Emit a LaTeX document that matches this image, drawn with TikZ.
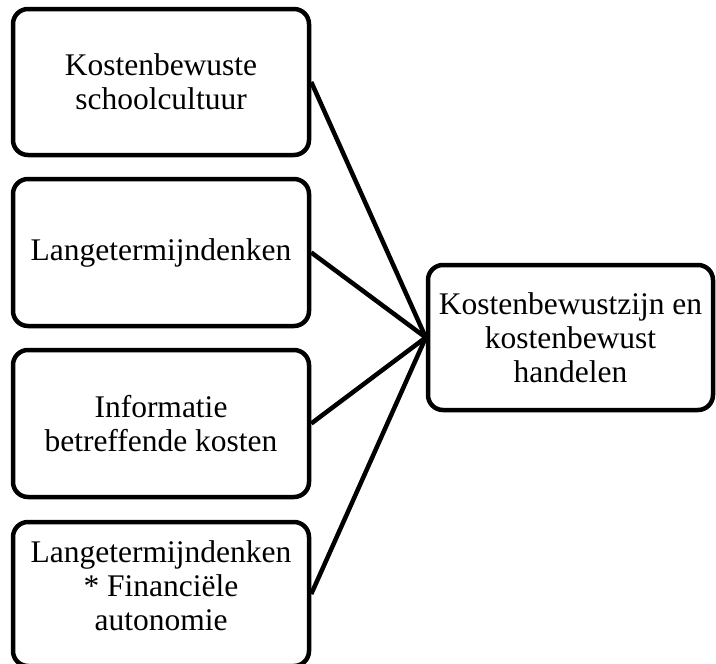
\documentclass[tikz,border=0pt]{standalone}
\usepackage{fontspec}
\setmainfont{Liberation Serif}
\begin{document}
\begin{tikzpicture}[x=1pt,y=-1pt,
  box/.style={draw=black, line width=4.5pt, rounded corners=15pt, minimum width=296pt,
    inner sep=0pt, align=center, font=\fontsize{31.5}{34}\selectfont},
  txt/.style={inner sep=0pt, align=center, font=\fontsize{31.5}{34}\selectfont},
  link/.style={draw=black, line width=4.5pt}]
  \useasboundingbox (0,0) rectangle (716,664);
  % source factors
  \node[box, minimum height=146pt] (b1) at (161,82) {Kostenbewuste\\schoolcultuur};
  \node[box, minimum height=147pt] (b2) at (161,252.5) {Langetermijndenken};
  \node[box, minimum height=147pt] (b3) at (161,423.5) {Informatie\\betreffende kosten};
  \node[box, minimum height=144pt] (b4) at (161,594) {};
  \node[txt] (t4) at (161,586) {Langetermijndenken\\* Financiële\\autonomie};
  % outcome
  \node[box, minimum width=285pt, minimum height=145pt] (r) at (570.5,337.5)
    {Kostenbewustzijn en\\kostenbewust\\handelen};
  % connectors
  \foreach \s in {b1,b2,b3,b4}
    \draw[link] (\s.east) -- (r.west);
\end{tikzpicture}
\end{document}
